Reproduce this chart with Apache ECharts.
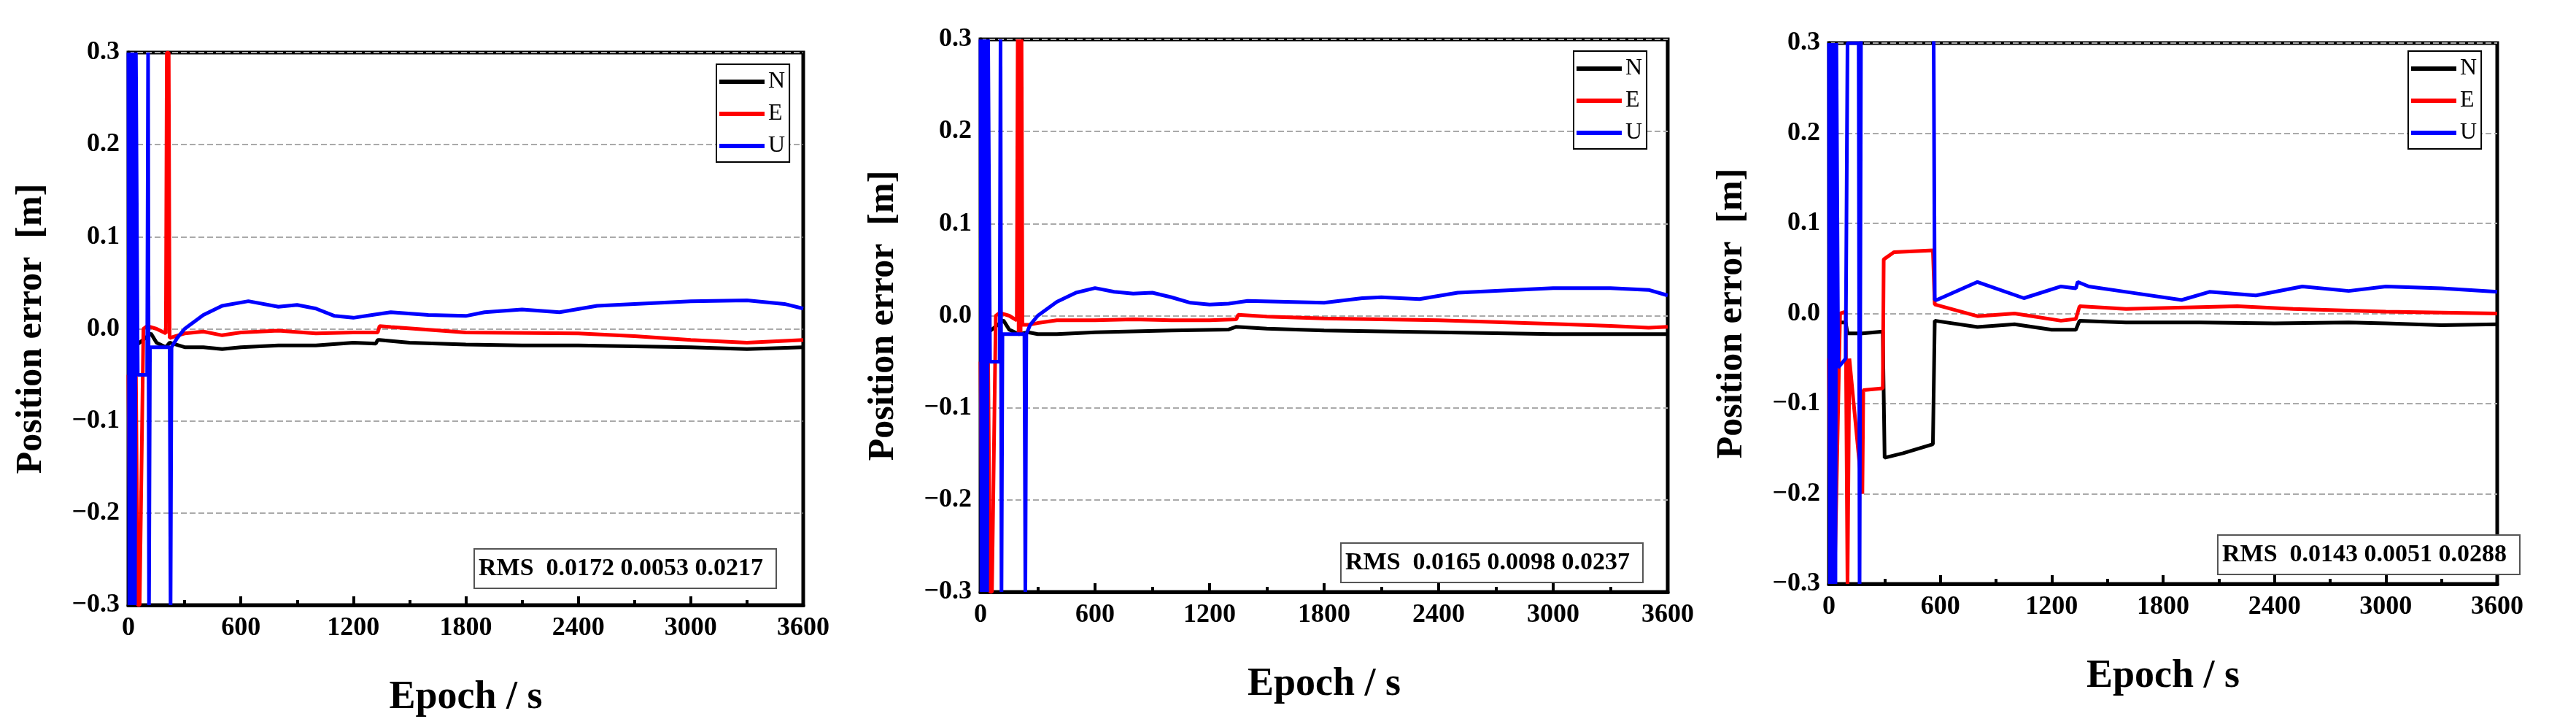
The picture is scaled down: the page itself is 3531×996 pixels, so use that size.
<!DOCTYPE html>
<html><head><meta charset="utf-8">
<script src="https://cdn.jsdelivr.net/npm/echarts@6/dist/echarts.min.js"></script>
<style>html,body{margin:0;background:#fff}#c{width:3531px;height:996px}</style>
</head><body><div id="c"></div>
<script>
const xTicks = [0,600,1200,1800,2400,3000,3600];
const rmsLabels = ['RMS  0.0172 0.0053 0.0217','RMS  0.0165 0.0098 0.0237','RMS  0.0143 0.0051 0.0288'];

// Chart 1
const t1N = [0,30,60,90,120,150,200,220,300,400,500,600,800,1000,1200,1320,1330,1340,1500,1800,2100,2400,2700,3000,3300,3600];
const v1N = [-0.01,-0.02,-0.015,-0.01,-0.005,-0.015,-0.02,-0.015,-0.02,-0.02,-0.022,-0.02,-0.018,-0.018,-0.015,-0.016,-0.012,-0.012,-0.015,-0.017,-0.018,-0.018,-0.019,-0.02,-0.022,-0.02];
const t1E = [0,10,20,30,40,50,60,80,100,150,200,205,215,220,250,300,400,500,600,800,1000,1200,1330,1340,1400,1800,2400,2700,3000,3300,3600];
const v1E = [-0.05,-0.3,-0.05,-0.3,-0.05,-0.3,-0.3,0,0.003,0,-0.005,0.3,0.3,-0.01,-0.008,-0.005,-0.003,-0.007,-0.004,-0.002,-0.005,-0.004,-0.004,0.003,0.002,-0.004,-0.005,-0.008,-0.012,-0.015,-0.012];
const t1U = [0,5,10,15,20,25,30,35,40,50,100,105,110,115,130,220,225,230,260,300,400,500,640,800,900,1000,1100,1200,1300,1400,1600,1800,1900,2100,2300,2500,2600,3000,3300,3500,3600];
const v1U = [0.3,-0.3,0.3,-0.3,0.3,-0.3,0.3,-0.3,0.3,-0.05,-0.05,0.3,-0.3,-0.02,-0.02,-0.02,-0.3,-0.02,-0.01,0.0,0.015,0.025,0.03,0.024,0.026,0.022,0.014,0.012,0.015,0.018,0.015,0.014,0.018,0.021,0.018,0.025,0.026,0.03,0.031,0.027,0.022];

// Chart 2
const t2N = [0,30,60,90,120,150,200,250,300,400,600,800,1000,1300,1340,1500,1800,2100,2400,2700,3000,3300,3600];
const v2N = [-0.01,-0.02,-0.015,-0.01,-0.005,-0.015,-0.02,-0.018,-0.02,-0.02,-0.018,-0.017,-0.016,-0.015,-0.012,-0.014,-0.016,-0.017,-0.018,-0.019,-0.02,-0.02,-0.02];
const t2E = [0,10,20,30,40,50,60,80,100,150,190,195,200,205,210,215,220,250,300,400,600,800,1000,1200,1340,1350,1500,1800,2100,2400,2700,3000,3300,3500,3600];
const v2E = [-0.05,-0.3,-0.05,-0.3,-0.05,-0.3,-0.3,0,0.003,0,-0.005,0.3,-0.02,0.3,-0.02,0.3,-0.01,-0.01,-0.008,-0.005,-0.005,-0.004,-0.005,-0.005,-0.004,0.001,-0.001,-0.003,-0.004,-0.005,-0.007,-0.009,-0.011,-0.013,-0.012];
const t2U = [0,5,10,15,20,25,30,35,40,50,100,105,110,115,130,230,235,240,260,300,400,500,600,700,800,900,1000,1100,1200,1300,1400,1600,1800,2000,2100,2300,2500,2700,3000,3300,3500,3600];
const v2U = [0.3,-0.3,0.3,-0.3,0.3,-0.3,0.3,-0.3,0.3,-0.05,-0.05,0.3,-0.3,-0.02,-0.02,-0.02,-0.3,-0.02,-0.01,0.0,0.015,0.025,0.03,0.026,0.024,0.025,0.02,0.014,0.012,0.013,0.016,0.015,0.014,0.019,0.02,0.018,0.025,0.027,0.03,0.03,0.028,0.022];

// Chart 3
const t3N = [0,40,90,100,180,290,300,400,560,570,800,1000,1200,1330,1350,1600,2000,2400,2800,3000,3300,3600];
const v3N = [-0.01,-0.01,-0.01,-0.022,-0.022,-0.02,-0.16,-0.155,-0.145,-0.008,-0.015,-0.012,-0.018,-0.018,-0.008,-0.01,-0.01,-0.011,-0.01,-0.011,-0.013,-0.012];
const t3E = [0,10,20,30,60,90,100,105,110,180,185,290,295,350,560,570,800,1000,1250,1330,1350,1600,2200,2500,3000,3600];
const v3E = [-0.05,-0.3,-0.05,-0.3,0,0.002,-0.3,-0.3,-0.05,-0.2,-0.085,-0.083,0.06,0.068,0.07,0.01,-0.003,0.0,-0.008,-0.006,0.008,0.005,0.008,0.005,0.002,0.0];
const t3U = [0,5,10,15,20,25,30,35,40,50,90,100,105,110,160,165,170,175,560,570,580,800,1050,1250,1330,1340,1400,1600,1900,2050,2300,2550,2800,3000,3300,3600];
const v3U = [0.3,-0.3,0.3,-0.3,0.3,-0.3,0.3,-0.3,0.3,-0.06,-0.05,0.3,0.3,0.3,0.3,-0.3,-0.3,0.5,0.5,0.015,0.015,0.035,0.017,0.03,0.028,0.035,0.03,0.024,0.015,0.024,0.02,0.03,0.025,0.03,0.028,0.024];

const charts = [
  {N:[t1N,v1N],E:[t1E,v1E],U:[t1U,v1U]},
  {N:[t2N,v2N],E:[t2E,v2E],U:[t2U,v2U]},
  {N:[t3N,v3N],E:[t3E,v3E],U:[t3U,v3U]}
];
const grids = [
  {left:176,top:72,width:925,height:757},
  {left:1344,top:54,width:942,height:757},
  {left:2507,top:59,width:916,height:741}
];
const legends = [[982,88],[2157,70],[3301,70]];
const rmsPos = [[650,752],[1838,744],[3040,733]];
const colors = {N:'#000000',E:'#ff0000',U:'#0000ff'};
const F = '"Liberation Serif","DejaVu Serif",serif';

const option = {animation:false, grid:[], xAxis:[], yAxis:[], series:[], legend:[], title:[]};
grids.forEach((g,i)=>{
  option.grid.push(Object.assign({show:true,borderColor:'#000',borderWidth:5,backgroundColor:'transparent'},g));
  option.xAxis.push({type:'value',gridIndex:i,min:0,max:3600,interval:600,
    name:'Epoch / s',nameLocation:'middle',nameGap: 100,
    nameTextStyle:{fontFamily:F,fontWeight:'bold',fontSize:54,color:'#000'},
    axisLine:{show:true,onZero:false,lineStyle:{color:'#000',width:5}},
    axisTick:{inside:true,length:12,lineStyle:{width:4,color:'#000'}},
    minorTick:{show:true,splitNumber:2,length:7,lineStyle:{width:4,color:'#000'}},
    axisLabel:{fontFamily:F,fontWeight:'bold',fontSize:36,color:'#000',margin:14,formatter:v=>String(v)},
    splitLine:{show:false}});
  option.yAxis.push({type:'value',gridIndex:i,min:-0.3,max:0.3,interval:0.1,
    name:'Position error  [m]',nameLocation:'middle',nameGap:108,
    nameTextStyle:{fontFamily:F,fontWeight:'bold',fontSize:50,color:'#000'},
    axisLine:{show:true,onZero:false,lineStyle:{color:'#000',width:5}},
    axisTick:{show:false},
    axisLabel:{fontFamily:F,fontWeight:'bold',fontSize:36,color:'#000',margin:12,
      formatter:v=>(v<0?'\u2212':'')+Math.abs(v).toFixed(1)},
    splitLine:{show:true,lineStyle:{color:'#aaa',type:'dashed',width:2}}});
  ['N','E','U'].forEach(k=>{
    const [t,v]=charts[i][k];
    option.series.push({name:k,type:'line',xAxisIndex:i,yAxisIndex:i,showSymbol:false,symbol:'none',
      clip:true,data:t.map((x,j)=>[x,v[j]]),lineStyle:{color:colors[k],width:5},itemStyle:{color:colors[k]},z:k==='U'?3:2});
  });
  option.legend.push({orient:'vertical',left:legends[i][0],top:legends[i][1],
    data:['N','E','U'],icon:'rect',itemWidth:62,itemHeight:6,itemGap:12,
    borderColor:'#000',borderWidth:2,padding:[8,6,6,4],backgroundColor:'#fff',
    textStyle:{fontFamily:F,fontSize:32,color:'#000'}});
  option.title.push({text:rmsLabels[i],left:rmsPos[i][0],top:rmsPos[i][1],
    borderColor:'#555',borderWidth:2,padding:[10,18,10,6],backgroundColor:'#fff',
    textStyle:{fontFamily:F,fontWeight:'bold',fontSize:34,color:'#000'}});
});
echarts.init(document.getElementById('c')).setOption(option);
</script></body></html>
